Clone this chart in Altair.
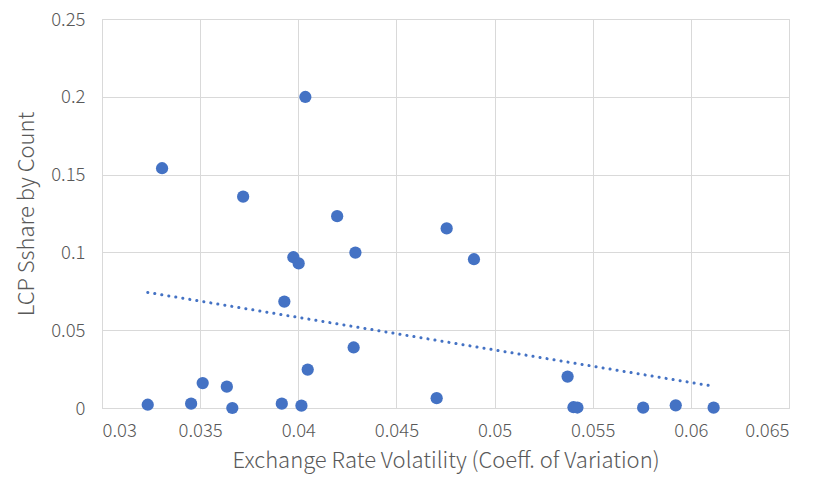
import altair as alt
import pandas as pd

x_vals = [0.03233, 0.03454, 0.03513, 0.03636, 0.03664, 0.03916, 0.04016, 0.03929,
          0.03975, 0.04002, 0.04048, 0.04282, 0.04291, 0.04705, 0.04756, 0.04198,
          0.03306, 0.03719, 0.04036, 0.04895, 0.05372, 0.05402, 0.05422, 0.05757,
          0.05923, 0.06116]
y_vals = [0.0021, 0.0028, 0.0160, 0.0137, 0.0000, 0.0028, 0.0015, 0.0684,
          0.0969, 0.0929, 0.0247, 0.0389, 0.0999, 0.0063, 0.1154, 0.1233,
          0.1541, 0.1358, 0.1999, 0.0956, 0.0202, 0.0005, 0.0003, 0.0002,
          0.0017, 0.0002]

df = pd.DataFrame({"x": x_vals, "y": y_vals})

FONT = "Noto Sans CJK SC"
GRAY = "#595959"
BLUE = "#4472C4"

xscale = alt.Scale(domain=[0.03, 0.065], nice=False, zero=False)
yscale = alt.Scale(domain=[0, 0.25], nice=False)

xaxis = alt.Axis(values=[0.03, 0.035, 0.04, 0.045, 0.05, 0.055, 0.06, 0.065],
                 format="~g", title="Exchange Rate Volatility (Coeff. of Variation)",
                 ticks=False, labelPadding=13, titlePadding=11)
yaxis = alt.Axis(values=[0, 0.05, 0.1, 0.15, 0.2, 0.25], format="~g",
                 title="LCP Sshare by Count", ticks=False, labelPadding=17,
                 titlePadding=12)

points = alt.Chart(df).mark_circle(size=150, color=BLUE, opacity=1).encode(
    x=alt.X("x:Q", scale=xscale, axis=xaxis),
    y=alt.Y("y:Q", scale=yscale, axis=yaxis),
)

trend = alt.Chart(df).transform_regression("x", "y").mark_line(
    color=BLUE, strokeDash=[0.1, 7], strokeWidth=3, strokeCap="round"
).encode(x=alt.X("x:Q", scale=xscale), y=alt.Y("y:Q", scale=yscale))

chart = (trend + points).properties(
    width=687, height=389,
    autosize=alt.AutoSizeParams(type="none"),
    padding={"left": 94, "top": 11, "right": 20, "bottom": 70},
).configure_view(stroke="#d9d9d9").configure_axis(
    gridColor="#d9d9d9", domainColor="#d9d9d9", labelFont=FONT, titleFont=FONT,
    labelColor=GRAY, titleColor=GRAY, labelFontSize=18.5, titleFontSize=22,
    labelFontWeight=300, titleFontWeight=300,
)

chart.save("out.html", embed_options={"renderer": "svg", "actions": False})
